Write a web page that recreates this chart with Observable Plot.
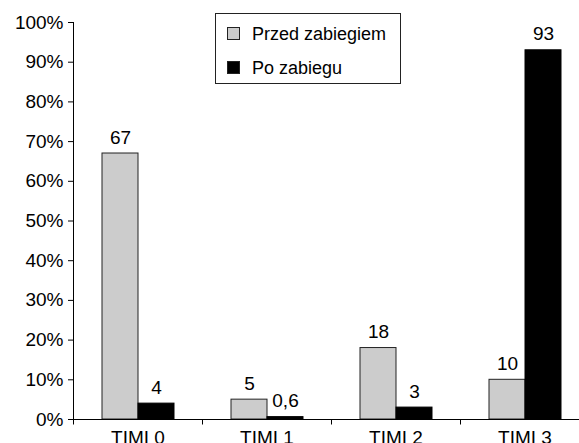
<!DOCTYPE html>
<html>
<head>
<meta charset="utf-8">
<script src="https://cdn.jsdelivr.net/npm/d3@7"></script>
<script src="https://cdn.jsdelivr.net/npm/@observablehq/plot@0.6"></script>
<style>
  body { margin: 0; background: white; }
  #wrap { position: relative; width: 579px; height: 443px; overflow: hidden; }
  #legend { position: absolute; left: 215px; top: 13px; }
</style>
</head>
<body>
<div id="wrap"></div>
<script>
const categories = ["TIMI 0", "TIMI 1", "TIMI 2", "TIMI 3"];
const series = ["Przed zabiegiem", "Po zabiegu"];
const before = [67, 5, 18, 10];
const after = [4, 0.6, 3, 93];
const yTicks = [0, 10, 20, 30, 40, 50, 60, 70, 80, 90, 100];
const colors = ["#cccccc", "#000000"];

const table = [];
categories.forEach((c, i) => {
  table.push({cat: c, series: series[0], value: before[i]});
  table.push({cat: c, series: series[1], value: after[i]});
});

const font = "'Liberation Sans', Arial, sans-serif";
const fmt = v => String(v).replace(".", ",");

const chart = Plot.plot({
  width: 579,
  height: 443,
  marginLeft: 71,
  marginRight: -11,
  marginTop: 22,
  marginBottom: 24,
  style: {fontFamily: font, fontSize: "19px", color: "black", background: "white", maxWidth: "none", overflow: "visible"},
  fx: {domain: categories, padding: 0, axis: "bottom", tickSize: 0, tickPadding: 11, label: null},
  x: {domain: series, paddingInner: 0, paddingOuter: 0.75, axis: null},
  y: {domain: [0, 100], ticks: yTicks, tickFormat: d => d + "%", tickSize: 5, tickPadding: 5, line: true, label: null},
  color: {domain: series, range: colors},
  marks: [
    Plot.barY(table, {fx: "cat", x: "series", y: "value", fill: "series", stroke: d => d.series === series[0] ? "#222" : "#000", strokeWidth: 1}),
    Plot.text(table, {fx: "cat", x: "series", y: "value", text: d => fmt(d.value), lineAnchor: "bottom", dy: -10, fill: "black"}),
    Plot.ruleY([0], {stroke: "black", strokeWidth: 1}),
    Plot.dot(categories, {fx: d => d, frameAnchor: "bottom-left", stroke: "black", fill: "none", strokeWidth: 1,
      symbol: {draw(ctx) { ctx.moveTo(0, 0); ctx.lineTo(0, 5); }}})
  ]
});

const wrap = document.getElementById("wrap");
wrap.appendChild(chart);

// legend inside plot area
const lg = d3.select(wrap).append("svg").attr("id", "legend")
  .attr("width", 186).attr("height", 71)
  .style("font-family", font).style("font-size", "18px");
lg.append("rect").attr("x", 0.5).attr("y", 0.5).attr("width", 185).attr("height", 70)
  .attr("fill", "white").attr("stroke", "#222");
const items = lg.selectAll("g").data(series).join("g")
  .attr("transform", (d, i) => `translate(0, ${i * 34})`);
items.append("rect").attr("x", 12.5).attr("y", 14.5).attr("width", 12).attr("height", 12)
  .attr("fill", (d, i) => colors[i]).attr("stroke", "#222");
items.append("text").attr("x", 37).attr("y", 27).text(d => d);
</script>
</body>
</html>
